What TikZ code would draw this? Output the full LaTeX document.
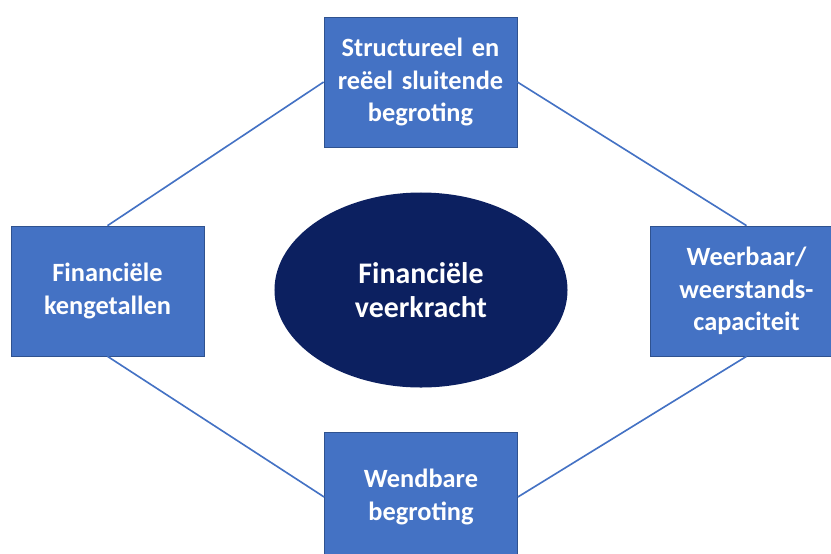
\documentclass[tikz,border=0pt]{standalone}
\usepackage{fontspec}
\setmainfont{Carlito}
\usepackage{xcolor}
\usepackage{tikz}
\usetikzlibrary{shapes.geometric}
\definecolor{boxblue}{RGB}{68, 114, 196}
\definecolor{boxline}{RGB}{47, 82, 143}
\definecolor{navy}{RGB}{12, 32, 96}

\begin{document}
\begin{tikzpicture}[
  x=0.03cm, y=-0.03cm,
  pillar/.style={rectangle, draw=boxline, fill=boxblue, line width=0.6pt,
                 minimum width=5.79cm, minimum height=3.9cm,
                 text width=5.5cm, align=center, text=white,
                 font=\fontsize{22.5}{27.5}\selectfont\bfseries},
  core/.style={ellipse, fill=navy, minimum width=8.79cm, minimum height=5.85cm,
               align=center, text=white, font=\fontsize{25.5}{29.5}\selectfont\bfseries},
  link/.style={line width=1.4pt, boxblue}
]
  \useasboundingbox (0,0) rectangle (831,554);
  \clip (0,0) rectangle (831,554);

  \node[core]   (kern) at (421,290) {Financiële\\veerkracht};
  \node[pillar] (begr) at (420.5,82) {Structureel en\\reëel sluitende\\begroting};
  \node[pillar] (kgt)  at (107.5,291) {Financiële\\kengetallen};
  \node[pillar] (weer) at (746.5,291) {Weerbaar/\\weerstands-\\capaciteit};
  \node[pillar] (wend) at (421,497) {Wendbare\\begroting};

  \draw[link] (begr.west) -- (kgt.north);
  \draw[link] (begr.east) -- (weer.north);
  \draw[link] (kgt.south) -- (wend.west);
  \draw[link] (weer.south) -- (wend.east);
\end{tikzpicture}
\end{document}
